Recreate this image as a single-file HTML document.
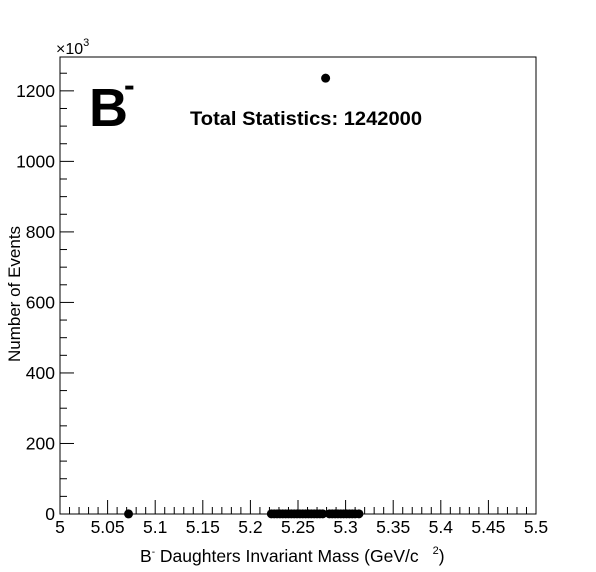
<!DOCTYPE html>
<html><head><meta charset="utf-8"><style>
body{margin:0;background:#fff;}
svg{display:block;font-family:"Liberation Sans",Arial,sans-serif;}
</style></head><body>
<svg id="c" width="596" height="572">
<rect x="0" y="0" width="596" height="572" fill="#fff"/>
<g id="axes"></g>
<g id="marks"></g>
<text x="89" y="126" font-size="54" font-weight="bold">B</text>
<text x="124" y="96" font-size="32" font-weight="bold">-</text>
<text x="190" y="125" font-size="19" font-weight="bold" textLength="232" lengthAdjust="spacingAndGlyphs">Total Statistics: 1242000</text>
<text x="56" y="54" font-size="16">×10<tspan font-size="11" dy="-8">3</tspan></text>
<text x="140" y="562" font-size="17.5">B<tspan font-size="10" dy="-7">-</tspan><tspan dy="7"> Daughters Invariant Mass (GeV/c</tspan><tspan font-size="11" dy="-8" dx="14">2</tspan><tspan dy="8">)</tspan></text>
<text transform="translate(20,362) rotate(-90)" font-size="17">Number of Events</text>
</svg>
<script>
const xTickLabels=["5","5.05","5.1","5.15","5.2","5.25","5.3","5.35","5.4","5.45","5.5"];
const yTickLabels=["0","200","400","600","800","1000","1200"];
const massValues=[5.072,5.222,5.225,5.228,5.231,5.234,5.237,5.240,5.243,5.246,5.249,5.252,5.255,5.258,5.261,5.264,5.267,5.270,5.273,5.276,5.279,5.283,5.286,5.289,5.292,5.295,5.298,5.301,5.304,5.307,5.310,5.314];
const eventCounts=[0.3,0.4,0.4,0.4,0.4,0.4,0.4,0.4,0.4,0.4,0.4,0.4,0.4,0.4,0.4,0.4,0.4,0.4,0.4,0.4,1236,0.4,0.4,0.4,0.4,0.4,0.4,0.4,0.4,0.4,0.4,0.4];
const L=60,R=536,T=57,B=514,xmin=5,xmax=5.5,ymin=0,ymax=1296;
const X=v=>L+(v-xmin)/(xmax-xmin)*(R-L);
const Y=v=>B-(v-ymin)/(ymax-ymin)*(B-T);
const NS="http://www.w3.org/2000/svg";
const ax=document.getElementById('axes'),mk=document.getElementById('marks');
function mkEl(t,a,p){const e=document.createElementNS(NS,t);for(const k in a)e.setAttribute(k,a[k]);p.appendChild(e);return e;}
const fr=mkEl('rect',{x:L,y:T,width:R-L,height:B-T,fill:'none',stroke:'#000','stroke-width':1},ax);


for(let i=0;i<=50;i++){const v=5+i*0.01;const len=i%5===0?14:7;
 const t=mkEl('line',{x1:X(v),x2:X(v),y1:B,y2:B-len,stroke:'#000'},ax);
 
 }
xTickLabels.forEach(s=>{const t=mkEl('text',{x:X(parseFloat(s)),y:B+19,'font-size':17.5,'text-anchor':'middle'},ax);t.textContent=s;
 
 });
for(let v=0;v<=1250;v+=50){const len=v%200===0?14:7;
 const t=mkEl('line',{x1:L,x2:L+len,y1:Y(v),y2:Y(v),stroke:'#000'},ax);
 
 }
yTickLabels.forEach(s=>{const t=mkEl('text',{x:L-5,y:Y(parseFloat(s))+6,'font-size':17.5,'text-anchor':'end'},ax);t.textContent=s;
 
 });
massValues.forEach((m,i)=>{const c=mkEl('circle',{cx:X(m),cy:Y(eventCounts[i]),r:4.5,fill:'#000'},mk);
 
 });
</script>
</body></html>
